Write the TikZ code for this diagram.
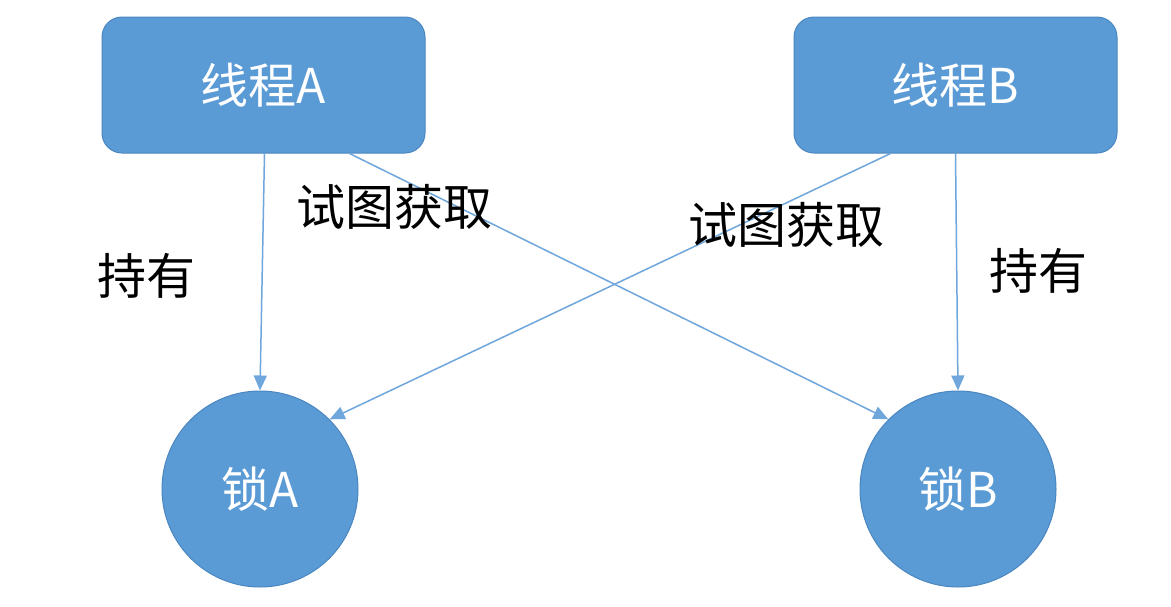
\documentclass[tikz,border=0pt]{standalone}
\usepackage{fontspec}
\newfontfamily\cjk{Noto Sans CJK SC}
\usetikzlibrary{arrows.meta}
\definecolor{boxblue}{HTML}{5B9BD5}
\definecolor{edgeblue}{HTML}{4A86C0}
\definecolor{linkblue}{HTML}{6FA6DC}
\begin{document}
\begin{tikzpicture}[x=1pt,y=-1pt,
  thread/.style={draw=edgeblue, line width=1pt, fill=boxblue, rounded corners=20pt,
    minimum width=323pt, minimum height=136pt, inner sep=0pt,
    text=white, font=\cjk\fontsize{48}{52}\selectfont},
  lock/.style={circle, draw=edgeblue, line width=1pt, fill=boxblue,
    minimum size=196pt, inner sep=0pt,
    text=white, font=\cjk\fontsize{48}{52}\selectfont},
  lbl/.style={text=black, inner sep=0pt, font=\cjk\fontsize{49}{52}\selectfont},
  link/.style={draw=linkblue, line width=1.5pt,
    -{Triangle[width=13pt,length=15pt]}}]
\useasboundingbox (0,0) rectangle (1171,606);
\fill[white] (0,0) rectangle (1171,606);
\node[thread] (thA) at (263.5,85) {线程A};
\node[thread] (thB) at (955.5,85) {线程B};
\node[lock] (lkA) at (260,489) {锁A};
\node[lock] (lkB) at (958,489) {锁B};
\draw[link] ([xshift=1pt]thA.south) -- (lkA.north);
\draw[link] ([xshift=86pt]thA.south) -- (lkB.135);
\draw[link] ([xshift=-65pt]thB.south) -- (lkA.45);
\draw[link] (thB.south) -- (lkB.north);
\node[lbl] (holdA) at (146,276) {持有};
\node[lbl] (tryA) at (394,207) {试图获取};
\node[lbl] (tryB) at (786,225) {试图获取};
\node[lbl] (holdB) at (1038,271) {持有};
\end{tikzpicture}
\end{document}
